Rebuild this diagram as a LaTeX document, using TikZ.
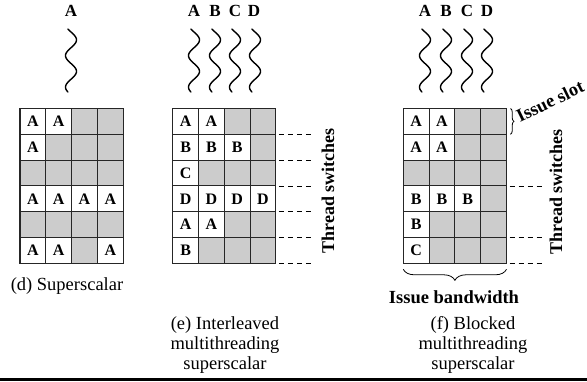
\documentclass[tikz,border=0pt]{standalone}
\usepackage{fontspec}
\setmainfont{Liberation Serif}
\usetikzlibrary{decorations.pathreplacing}

% one grid of issue slots: name, left x, top y, rows of cells (g = idle slot)
\newcommand\slotgrid[4]{%
  \foreach \cells [count=\r] in {#4} {
    \foreach \v [count=\c] in \cells {
      \if g\v
        \node[idle] (#1-\r-\c) at ({#2+(\c-1)*25.8},{#3+(\r-1)*25.8}) {};
      \else
        \node[busy] (#1-\r-\c) at ({#2+(\c-1)*25.8},{#3+(\r-1)*25.8}) {\v};
      \fi
    }
  }%
}
% a wavy thread line hanging below its label (period 31.5pt)
\newcommand\threadwave[1]{%
  \draw[thread] plot[smooth, domain=29:92, samples=60, variable=\t]
    ({#1+5.5*sin(11.43*(\t-32))}, \t);%
}

\begin{document}
\begin{tikzpicture}[x=1pt, y=-1pt,
  slot/.style={draw=black!85, line width=1.1pt, minimum width=25.8pt,
    minimum height=25.8pt, inner sep=0pt, outer sep=0pt, anchor=north west,
    font=\fontsize{16}{16}\selectfont\bfseries},
  idle/.style={slot, fill=gray!40},
  busy/.style={slot, fill=white},
  threadlabel/.style={font=\fontsize{17}{17}\selectfont\bfseries, inner sep=0pt},
  thread/.style={line width=1.4pt, line cap=round},
  switchline/.style={dash pattern=on 5pt off 4pt, line width=0.8pt},
  sidelabel/.style={font=\fontsize{18}{18}\selectfont\bfseries, rotate=90, inner sep=0pt},
  caption/.style={font=\fontsize{18.5}{20}\selectfont, align=center, inner sep=0pt},
  bracelabel/.style={font=\fontsize{18.5}{20}\selectfont\bfseries, inner sep=0pt},
]
\useasboundingbox (0,0) rectangle (587,381);

% ---- (d) superscalar ----
\node[threadlabel] (dA) at (71,11) {A};
\threadwave{71}
\slotgrid{d}{20}{108.5}{{A,A,g,g},{A,g,g,g},{g,g,g,g},{A,A,A,A},{g,g,g,g},{A,A,g,A}}
\node[caption] (dcap) at (67,286) {(d) Superscalar};

% ---- (e) interleaved multithreading ----
\foreach \n/\x in {A/194,B/215,C/235,D/254} {
  \node[threadlabel] (e\n) at (\x,11) {\n};
}
\foreach \x in {194,215,235,255} { \threadwave{\x} }
\slotgrid{e}{172.7}{108.5}{{A,A,g,g},{B,B,B,g},{C,g,g,g},{D,D,D,D},{A,A,g,g},{B,g,g,g}}
\foreach \r in {1,...,6} {
  \draw[switchline] ([xshift=3pt]e-\r-4.south east) -- ++(34,0);
}
\node[sidelabel] (eswitch) at (328,191) {Thread switches};
\node[caption] (ecap) at (225,345) {(e) Interleaved\\multithreading\\superscalar};

% ---- (f) blocked multithreading ----
\foreach \n/\x in {A/425,B/446,C/467,D/487} {
  \node[threadlabel] (f\n) at (\x,11) {\n};
  \threadwave{\x}
}
\slotgrid{f}{403.3}{108.5}{{A,A,g,g},{A,A,g,g},{g,g,g,g},{B,B,B,g},{B,g,g,g},{C,g,g,g}}
\foreach \r in {3,5,6} {
  \draw[switchline] ([xshift=3pt]f-\r-4.south east) -- ++(34,0);
}
\node[sidelabel] (fswitch) at (556,192) {Thread switches};

% issue slot brace and label
\draw[line width=0.8pt, decorate, decoration={brace, amplitude=3.5pt}]
  ([xshift=4pt]f-1-4.north east) -- ([xshift=4pt]f-1-4.south east);
\node[bracelabel, rotate=26, anchor=base west] (slotlabel) at (520,123) {Issue slot};

% issue bandwidth brace and label
\draw[line width=0.8pt, decorate, decoration={brace, amplitude=11pt}]
  ([yshift=-6pt]f-6-4.south east) -- ([yshift=-6pt]f-6-1.south west);
\node[bracelabel] (bandwidth) at (454,297) {Issue bandwidth};
\node[caption] (fcap) at (473,345) {(f) Blocked\\multithreading\\superscalar};

% rule along the foot
\fill (0,378) rectangle (587,381);
\end{tikzpicture}
\end{document}
